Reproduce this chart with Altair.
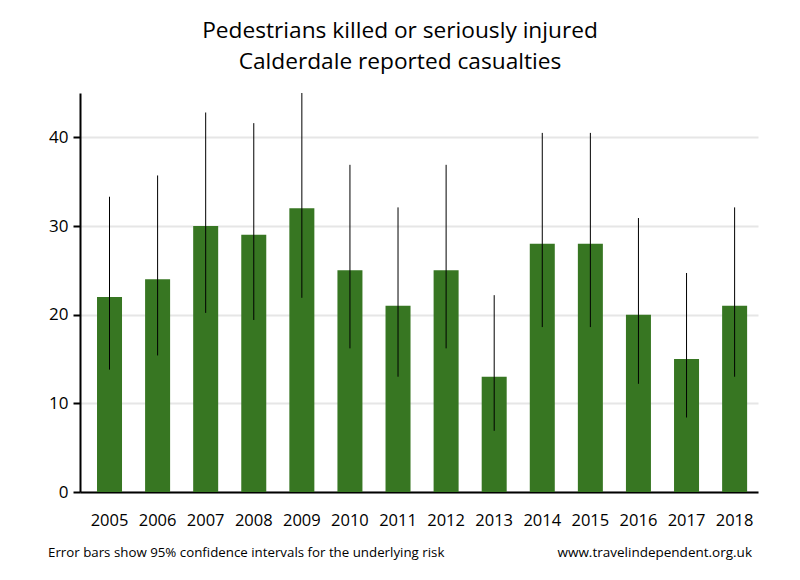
import altair as alt
import pandas as pd

years = ["2005", "2006", "2007", "2008", "2009", "2010", "2011", "2012",
         "2013", "2014", "2015", "2016", "2017", "2018"]
casualties = [22, 24, 30, 29, 32, 25, 21, 25, 13, 28, 28, 20, 15, 21]
ci_low = [13.8, 15.4, 20.2, 19.4, 21.9, 16.2, 13.0, 16.2, 6.9, 18.6, 18.6, 12.2, 8.4, 13.0]
ci_high = [33.3, 35.7, 42.8, 41.6, 45.2, 36.9, 32.1, 36.9, 22.2, 40.5, 40.5, 30.9, 24.7, 32.1]

df = pd.DataFrame({"year": years, "n": casualties, "lo": ci_low, "hi": ci_high})

FONT = "Open Sans"

x = alt.X("year:N", scale=alt.Scale(paddingInner=0.48, paddingOuter=0.29, align=0.61),
          axis=alt.Axis(title=None, labelAngle=0, ticks=False, labelPadding=20,
                        labelFontSize=16.5, labelColor="black", labelFont=FONT,
                        domainColor="black", domainWidth=2, grid=False))
y_scale = alt.Scale(domain=[0, 45], nice=False)

bars = alt.Chart(df).mark_bar(color="#377622").encode(
    x=x,
    y=alt.Y("n:Q", scale=y_scale,
            axis=alt.Axis(title=None, values=[0, 10, 20, 30, 40], tickSize=7,
                          tickColor="black", tickWidth=2, domainColor="black",
                          domainWidth=2, labelFontSize=17, labelColor="black",
                          labelFont=FONT, labelPadding=5, gridColor="#e6e6e6",
                          gridWidth=2)),
)

errs = alt.Chart(df).mark_rule(color="black", strokeWidth=1, clip=True).encode(
    x="year:N", y="lo:Q", y2="hi:Q")

notes = pd.DataFrame({"t": ["Error bars show 95% confidence intervals for the underlying risk"]})
note_left = alt.Chart(notes).mark_text(align="left", baseline="middle", fontSize=13.3,
                                       font=FONT, color="black").encode(
    x=alt.value(-32), y=alt.value(460), text="t:N")
site = pd.DataFrame({"t": ["www.travelindependent.org.uk"]})
note_right = alt.Chart(site).mark_text(align="right", baseline="middle", fontSize=13.5,
                                       font=FONT, color="black").encode(
    x=alt.value(672), y=alt.value(460), text="t:N")

chart = alt.layer(bars, errs, note_left, note_right).properties(
    width=678, height=399,
    title=alt.TitleParams(
        text=["Pedestrians killed or seriously injured", "Calderdale reported casualties"],
        fontSize=22.7, font=FONT, fontWeight="normal", color="black",
        anchor="middle", dx=-19, offset=19, lineHeight=31),
    autosize=alt.AutoSizeParams(type="none"),
    padding={"left": 72, "top": 85, "right": 34, "bottom": 80},
).configure_view(stroke=None)

chart.save("out.html", embed_options={"renderer": "svg", "actions": False})
